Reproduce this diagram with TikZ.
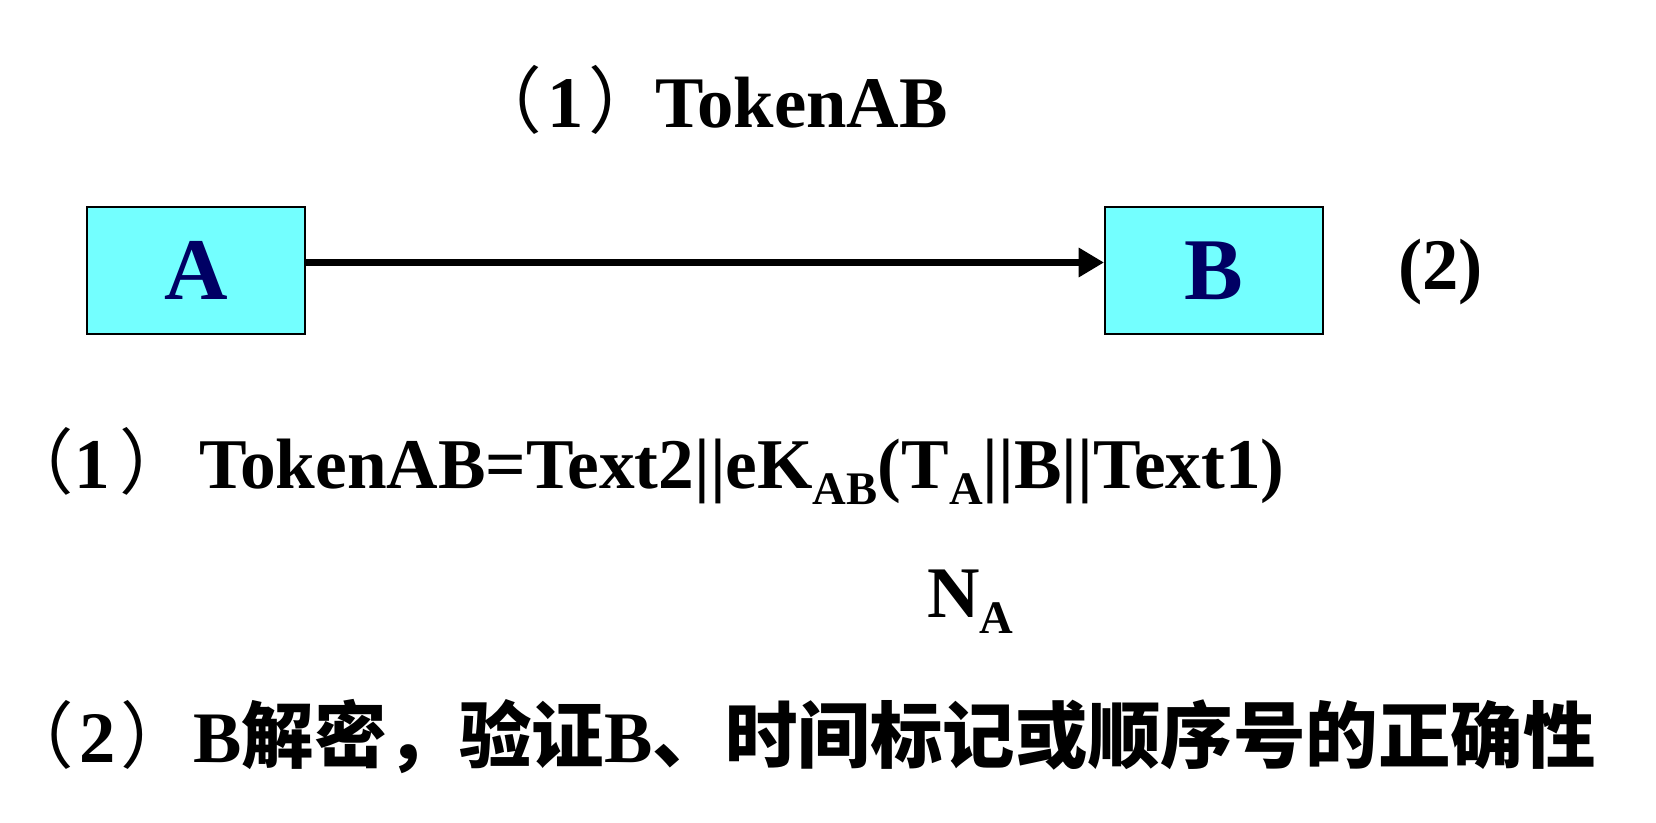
\documentclass[tikz,border=0pt]{standalone}
\usepackage{fontspec}
\setmainfont{Liberation Serif}
\newfontfamily\cjk{Noto Sans CJK SC}
\usetikzlibrary{arrows.meta}
\definecolor{boxfill}{RGB}{115,255,255}
\definecolor{navy}{RGB}{0,0,100}
\newcommand\sbs[1]{\raisebox{-12pt}{\fontsize{35pt}{36pt}\selectfont #1}}
\newcommand\lp{{\cjk\mdseries （}}
\newcommand\rp{{\cjk\mdseries ）}}
\begin{document}
\begin{tikzpicture}[x=0.75pt,y=-0.75pt,
  txt/.style={inner sep=0pt, font=\fontsize{54.5pt}{60pt}\selectfont\bfseries},
  ent/.style={draw=black, line width=1.5pt, fill=boxfill, minimum width=163.5pt,
    minimum height=95.25pt, inner sep=0pt, text=navy,
    font=\fontsize{66pt}{66pt}\selectfont\bfseries}]
\useasboundingbox (0,0) rectangle (1656,822);
\node[ent] (A) at (196,270.5) {A};
\node[ent] (B) at (1214,270.5) {B};
\draw[line width=5.5pt, -{Triangle[length=19pt,width=21pt]}] ([yshift=6pt]A.east) -- ([yshift=6pt]B.west);
\node[txt, anchor=base east] (top) at (948,127) {\kern-20pt\lp\kern4pt 1\kern3pt\rp\kern-4pt TokenAB};
\node[txt, anchor=base west] (two) at (1398,289) {(2)};
\node[txt, anchor=base east, font=\fontsize{53.5pt}{60pt}\selectfont\bfseries] (l1) at (1285,488)
  {\kern-28pt\lp\kern1pt 1\kern7pt\rp\kern6pt TokenAB=Text2||eK\sbs{AB}(T\sbs{A}||B||Text1)};
\node[txt, anchor=base west] (na) at (927,617) {N\sbs{A}};
\node[txt, anchor=base east, font=\fontsize{54.4pt}{60pt}\selectfont\bfseries] (l2) at (1596,762)
  {\kern-30pt\lp\kern4pt 2\kern4pt\rp B{\cjk 解密，验证}B{\cjk 、时间标记或顺序号的正确性}};
\end{tikzpicture}
\end{document}
